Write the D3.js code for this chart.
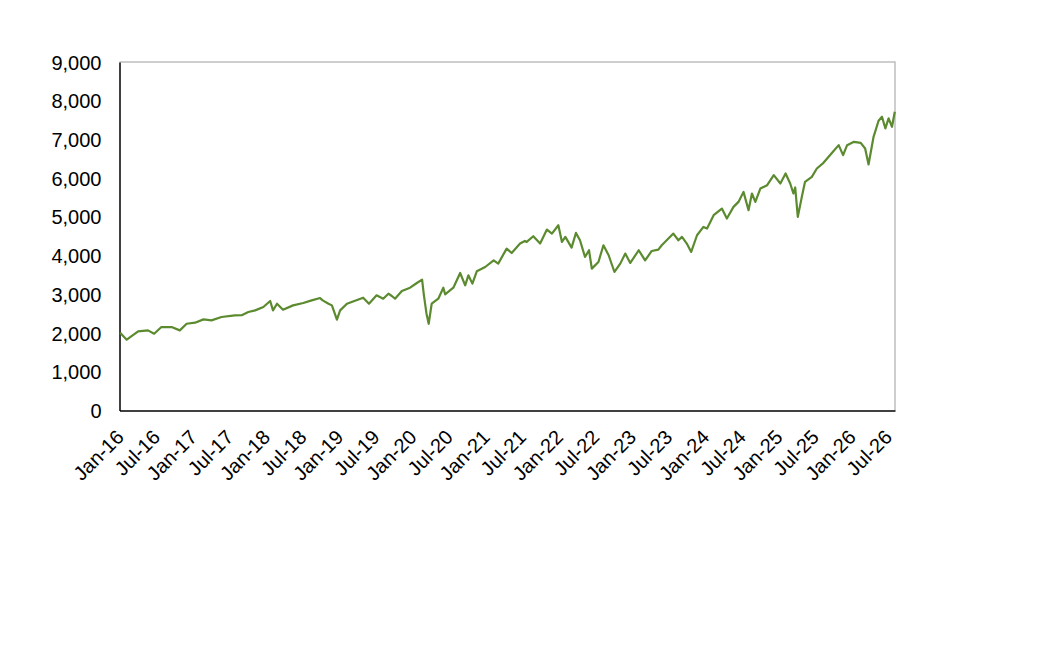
<!DOCTYPE html>
<html>
<head>
<meta charset="utf-8">
<script src="https://cdn.jsdelivr.net/npm/d3@7"></script>
<style>
  body { margin: 0; background: #fff; }
  text { font-family: "Liberation Sans", Arial, sans-serif; fill: #000; }
</style>
</head>
<body>
<div id="chart"></div>
<script>
// width and height
var w = 1049;
var h = 661;

// values, date / index level
var dates = [
  "2016-01-04", "2016-02-06", "2016-04-03", "2016-05-22", "2016-06-22", "2016-07-28",
  "2016-09-17", "2016-10-28", "2016-12-01", "2017-01-12", "2017-02-23", "2017-04-04",
  "2017-05-24", "2017-07-29", "2017-09-02", "2017-10-05", "2017-11-08", "2017-12-19",
  "2018-01-22", "2018-02-05", "2018-02-25", "2018-03-27", "2018-05-16", "2018-07-06",
  "2018-08-17", "2018-09-28", "2018-10-11", "2018-11-09", "2018-11-26", "2018-12-21",
  "2019-01-06", "2019-02-09", "2019-03-28", "2019-05-01", "2019-05-30", "2019-07-07",
  "2019-08-09", "2019-09-04", "2019-09-21", "2019-10-07", "2019-11-10", "2019-12-21",
  "2020-01-24", "2020-02-19", "2020-02-28", "2020-03-12", "2020-03-23", "2020-04-07",
  "2020-05-10", "2020-06-04", "2020-06-13", "2020-07-24", "2020-08-27", "2020-09-21",
  "2020-10-07", "2020-10-27", "2020-11-18", "2020-12-30", "2021-02-10", "2021-03-05",
  "2021-04-16", "2021-05-11", "2021-06-22", "2021-07-16", "2021-07-25", "2021-08-27",
  "2021-09-30", "2021-11-03", "2021-11-28", "2021-12-30", "2022-01-17", "2022-02-03",
  "2022-03-06", "2022-03-28", "2022-04-17", "2022-05-12", "2022-06-01", "2022-06-15",
  "2022-07-18", "2022-08-12", "2022-09-07", "2022-10-06", "2022-11-04", "2022-11-29",
  "2022-12-24", "2023-02-04", "2023-03-08", "2023-04-10", "2023-05-13", "2023-05-30",
  "2023-07-27", "2023-08-21", "2023-09-08", "2023-10-02", "2023-10-24", "2023-11-22",
  "2023-12-24", "2024-01-11", "2024-02-13", "2024-03-25", "2024-04-19", "2024-05-22",
  "2024-06-16", "2024-07-11", "2024-08-05", "2024-08-22", "2024-09-08", "2024-10-03",
  "2024-11-06", "2024-12-09", "2025-01-11", "2025-02-06", "2025-03-01", "2025-03-17",
  "2025-03-26", "2025-04-08", "2025-04-28", "2025-05-14", "2025-06-17", "2025-07-12",
  "2025-08-14", "2025-09-26", "2025-10-29", "2025-11-20", "2025-12-10", "2026-01-13",
  "2026-02-16", "2026-03-10", "2026-03-27", "2026-04-21", "2026-05-16", "2026-06-02",
  "2026-06-19", "2026-07-05", "2026-07-22", "2026-08-05"
];

var values = [
  2010, 1828, 2043, 2069, 1983, 2155,
  2155, 2069, 2241, 2267, 2353, 2327,
  2414, 2457, 2460, 2543, 2586, 2672,
  2827, 2586, 2758, 2603, 2715, 2775,
  2845, 2904, 2845, 2758, 2715, 2345,
  2586, 2758, 2845, 2914, 2758, 2974,
  2888, 3017, 2957, 2888, 3086, 3172,
  3293, 3380, 2980, 2500, 2240, 2758,
  2888, 3172, 3000, 3172, 3551, 3232,
  3491, 3276, 3594, 3706, 3879, 3793,
  4181, 4068, 4311, 4379, 4353, 4500,
  4311, 4672, 4569, 4784, 4353, 4483,
  4207, 4586, 4396, 3965, 4138, 3664,
  3836, 4267, 4009, 3577, 3793, 4052,
  3810, 4138, 3879, 4120, 4156, 4267,
  4569, 4396, 4483, 4311, 4095, 4526,
  4741, 4698, 5043, 5215, 4957, 5258,
  5387, 5646, 5172, 5603, 5387, 5732,
  5818, 6077, 5862, 6120, 5862, 5603,
  5759, 5000, 5517, 5905, 6034, 6250,
  6396, 6655, 6853, 6595, 6853, 6939,
  6913, 6767, 6353, 7068, 7482, 7586,
  7284, 7543, 7327, 7715
];

var yTicks = [0, 1000, 2000, 3000, 4000, 5000, 6000, 7000, 8000, 9000];
var domainStart = "2016-01-01";
var domainEnd = "2026-08-06";

var parse = d3.timeParse("%Y-%m-%d");
var data = dates.map(function(d, i) {
  return { date: parse(d), value: values[i] };
});

// plot area
var plotLeft = 119.5, plotRight = 895, plotTop = 62, plotBottom = 410.5;

var x = d3.scaleTime()
  .domain([parse(domainStart), parse(domainEnd)])
  .range([plotLeft, plotRight]);

var y = d3.scaleLinear()
  .domain([0, 9000])
  .range([plotBottom, plotTop]);

var svg = d3.select("#chart")
  .append("svg")
  .attr("width", w)
  .attr("height", h);

// gray frame on top and right
svg.append("path")
  .attr("d", "M" + plotLeft + "," + plotTop + "H" + plotRight + "V" + plotBottom)
  .attr("fill", "none")
  .attr("stroke", "#bfbfbf")
  .attr("stroke-width", 1.5);

// y axis
var yAxis = svg.append("g")
  .attr("transform", "translate(" + plotLeft + ",0)")
  .call(d3.axisLeft(y).tickValues(yTicks).tickFormat(d3.format(",")).tickSize(0).tickPadding(18));
yAxis.select(".domain").attr("stroke", "#000").attr("stroke-width", 1.5);
yAxis.selectAll("text")
  .attr("font-size", "20px")
  .attr("dy", "0.35em");

// x axis, one label each Jan and Jul
var xTicks = d3.timeMonth.every(6).range(parse(domainStart), parse(domainEnd));
var xAxis = svg.append("g")
  .attr("transform", "translate(0," + plotBottom + ")")
  .call(d3.axisBottom(x).tickValues(xTicks).tickFormat(d3.timeFormat("%b-%y")).tickSize(0));
xAxis.select(".domain").attr("stroke", "#000").attr("stroke-width", 1.5);
xAxis.selectAll("text")
  .attr("font-size", "20px")
  .attr("text-anchor", "end")
  .attr("dy", null)
  .attr("y", null)
  .attr("transform", "translate(5,28) rotate(-45)");

// the series
var line = d3.line()
  .x(function(d) { return x(d.date); })
  .y(function(d) { return y(d.value); });

svg.append("path")
  .datum(data)
  .attr("d", line)
  .attr("fill", "none")
  .attr("stroke", "#5b8a2f")
  .attr("stroke-width", 2.2)
  .attr("stroke-linejoin", "round");
</script>
</body>
</html>
